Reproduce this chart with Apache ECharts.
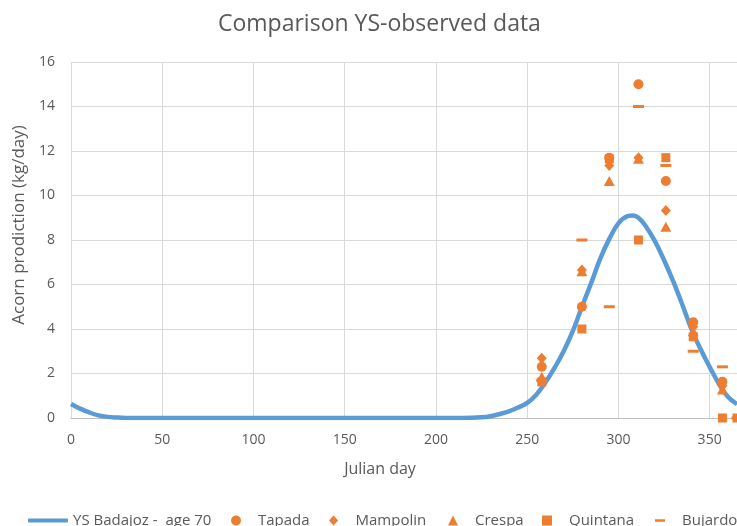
<!DOCTYPE html>
<html lang="en">
<head>
    <meta charset="UTF-8">
    <title>Comparison YS-observed data</title>
    <script src="https://cdn.jsdelivr.net/npm/echarts@6/dist/echarts.min.js"></script>
    <style>
        html, body { margin: 0; padding: 0; background: #fff; }
        #chart { width: 737px; height: 526px; }
    </style>
</head>
<body>
    <div id="chart"></div>
    <script>
        // model curve (YS Badajoz - age 70)
        var curveDays = [0, 5, 10, 15, 20, 25, 30, 60, 100, 150, 200, 215, 225, 230, 235, 240, 245, 250, 255, 260, 265, 270, 275, 280, 285, 290, 295, 300, 305, 308, 311, 315, 320, 325, 330, 335, 340, 345, 350, 355, 360, 365];
        var curveValues = [0.63, 0.42, 0.25, 0.12, 0.05, 0.02, 0.005, 0, 0, 0, 0, 0, 0.03, 0.08, 0.18, 0.3, 0.47, 0.68, 1.05, 1.6, 2.25, 3.0, 3.9, 5.0, 6.05, 7.15, 8.05, 8.75, 9.07, 9.1, 9.0, 8.62, 7.95, 7.1, 6.15, 5.1, 4.0, 3.1, 2.3, 1.55, 0.95, 0.62];

        // observed sampling days
        var obsDays = [258, 280, 295, 311, 326, 341, 357, 365];
        var tapada   = [2.3, 5.0, 11.7, 15.0, 10.65, 4.3, 1.63, null];
        var mampolin = [2.68, 6.65, 11.35, 11.7, 9.33, 4.1, 1.45, null];
        var crespa   = [1.85, 6.6, 10.65, 11.65, 8.6, 3.9, 1.28, null];
        var quintana = [1.62, 4.0, 11.65, 8.0, 11.7, 3.65, 0, 0];
        var bujardo  = [1.7, 8.0, 5.0, 14.0, 11.35, 3.0, 2.3, 0];

        var xTicks = [0, 50, 100, 150, 200, 250, 300, 350];
        var yTicks = [0, 2, 4, 6, 8, 10, 12, 14, 16];

        var orange = '#ED7D31';
        var blue = '#5B9BD5';
        var grey = '#595959';
        var font = 'Open Sans';

        function pairs(xs, ys) {
            var out = [];
            for (var i = 0; i < xs.length; i++) {
                if (ys[i] !== null) out.push([xs[i], ys[i]]);
            }
            return out;
        }

        function obsSeries(name, values, symbol, size) {
            return {
                name: name,
                type: 'scatter',
                data: pairs(obsDays, values),
                symbol: symbol,
                symbolSize: size,
                itemStyle: { color: orange, opacity: 1 },
                z: 3
            };
        }

        // one legend per entry so each sits where the original has it
        function legendItem(name, icon, left, w, h) {
            return {
                data: [{ name: name, icon: icon }],
                left: left,
                top: 513,
                padding: 0,
                itemWidth: w,
                itemHeight: h,
                textStyle: { color: grey, fontSize: 15, fontFamily: font }
            };
        }

        var chart = echarts.init(document.getElementById('chart'));

        var option = {
            animation: false,
            textStyle: { fontFamily: font },
            title: {
                text: 'Comparison YS-observed data',
                left: 213,
                top: 8,
                textStyle: { color: grey, fontSize: 23, fontWeight: 'normal', fontFamily: font }
            },
            legend: [
                legendItem('YS Badajoz -  age 70', 'roundRect', 28, 40, 4),
                legendItem('Tapada', 'circle', 231, 34, 10),
                legendItem('Mampolin', 'path://M5,0 L10,5.5 L5,11 L0,5.5 Z', 329, 34, 10),
                legendItem('Crespa', 'path://M5,0 L10,10 L0,10 Z', 448, 34, 10),
                legendItem('Quintana', 'path://M0,0 L9,0 L9,9 L0,9 Z', 542, 34, 10),
                legendItem('Bujardo', 'path://M0,4 L11,4 L11,7 L0,7 Z M5,0 L5.01,0 L5,0.01 Z M5,11 L5.01,11 L5,10.99 Z', 655, 34, 10)
            ],
            grid: { left: 71, right: -3, top: 62, bottom: 108 },
            xAxis: {
                type: 'value',
                min: 0,
                max: 365,
                interval: 50,
                name: 'Julian day',
                nameLocation: 'middle',
                nameGap: 43,
                nameTextStyle: { color: grey, fontSize: 16, padding: [0, 48, 0, 0] },
                axisLine: { lineStyle: { color: '#bfbfbf', width: 1 } },
                axisTick: { show: false },
                axisLabel: {
                    color: grey, fontSize: 14, margin: 15, showMaxLabel: false,
                    formatter: function (v) { return xTicks.indexOf(v) >= 0 ? String(v) : ''; }
                },
                splitLine: { show: true, lineStyle: { color: '#d9d9d9', width: 1 } }
            },
            yAxis: {
                type: 'value',
                min: 0,
                max: 16,
                interval: 2,
                name: 'Acorn prodiction (kg/day)',
                nameLocation: 'middle',
                nameRotate: 90,
                nameGap: 40,
                nameTextStyle: { color: grey, fontSize: 17, padding: [0, 0, 0, 30] },
                axisLine: { show: false },
                axisTick: { show: false },
                axisLabel: {
                    color: grey, fontSize: 14, margin: 16,
                    formatter: function (v) { return yTicks.indexOf(v) >= 0 ? String(v) : ''; }
                },
                splitLine: { show: true, lineStyle: { color: '#d9d9d9', width: 1 } }
            },
            series: [
                {
                    name: 'YS Badajoz -  age 70',
                    type: 'line',
                    data: pairs(curveDays, curveValues),
                    smooth: 0.4,
                    symbol: 'none',
                    lineStyle: { color: blue, width: 4.5 },
                    itemStyle: { color: blue },
                    z: 2
                },
                obsSeries('Tapada', tapada, 'circle', 10),
                obsSeries('Mampolin', mampolin, 'diamond', [10, 11]),
                obsSeries('Crespa', crespa, 'triangle', [11, 10]),
                obsSeries('Quintana', quintana, 'rect', 9),
                obsSeries('Bujardo', bujardo, 'rect', [11, 3])
            ]
        };

        chart.setOption(option);
    </script>
</body>
</html>
